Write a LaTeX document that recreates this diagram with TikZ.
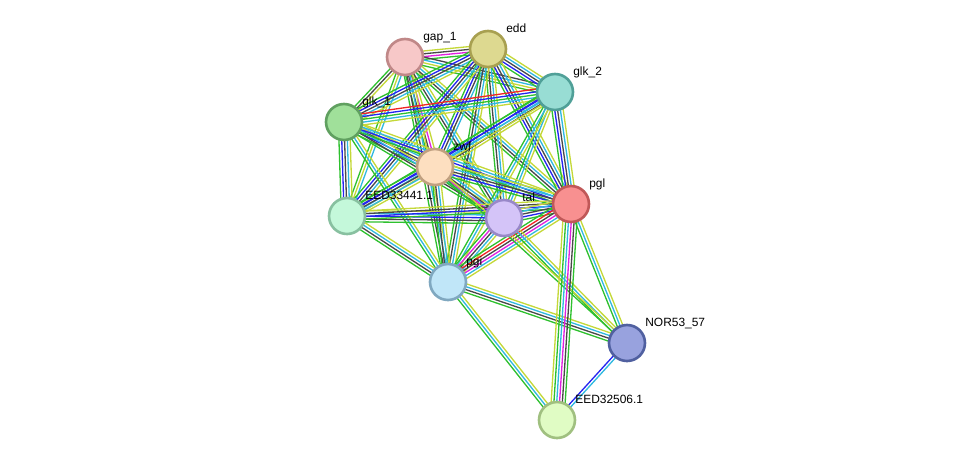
\documentclass[tikz,border=0pt]{standalone}
\usepackage{fontspec}
\setmainfont{Liberation Sans}
\usetikzlibrary{calc}
\pgfdeclarelayer{background}
\pgfsetlayers{background,main}
\definecolor{sgreen}{HTML}{2EC02E}
\definecolor{syellow}{HTML}{C4D838}
\definecolor{scyan}{HTML}{30B8E0}
\definecolor{sblack}{HTML}{484848}
\definecolor{sblue}{HTML}{2424F0}
\definecolor{smag}{HTML}{E020E0}
\definecolor{sred}{HTML}{F02424}
\tikzset{
  prot/.style={circle,minimum size=0.72cm,inner sep=0pt,line width=1.5pt},
  plbl/.style={anchor=base west,inner sep=0pt,font=\fontsize{6.8}{8}\selectfont},
  ln/.style={line width=0.75pt}
}
\newcommand\sedge[3]{%
  \gdef\nn{0}\foreach \c in {#3}{\xdef\nn{\the\numexpr\nn+1}}%
  \foreach \c [count=\i] in {#3}{%
    \pgfmathsetmacro\off{(\i-(\nn+1)/2)*1.6}%
    \draw[ln,\c] ($(#1)!\off pt!90:(#2)$) -- ($(#2)!\off pt!-90:(#1)$);}}

\begin{document}
\begin{tikzpicture}[x=0.02cm,y=-0.02cm]
\useasboundingbox (0,0) rectangle (975,467);
\foreach \n/\x/\y/\f/\d/\t in {
  gap/405/57/F7C8C8/C08888/gap\_1,
  edd/488/49/DDD990/A8A050/edd,
  glkb/555/92/98DDD4/50A098/glk\_2,
  glka/344/122/A0E09A/60A060/glk\_1,
  zwf/435/167/FDDFC0/C0A080/zwf,
  eeda/347/216/C4F8DA/88C0A0/EED33441.1,
  tal/504/218/D4C4F8/9888C8/tal,
  pgl/571/204/F89090/C05858/pgl,
  pgi/448/282/C0E6F8/80A8C0/pgi,
  nor/627/343/98A2DE/5060A0/NOR53\_57,
  eedb/557/420/E0FCC4/A0C080/EED32506.1}{
  \definecolor{fc}{HTML}{\f}\definecolor{dc}{HTML}{\d}
  \node[prot,fill=fc,draw=dc] (\n) at (\x,\y) {};
  \node[plbl] (\n-l) at ($(\n)+(18,-17)$) {\t};
}
\begin{pgfonlayer}{background}
\sedge{gap}{edd}{sgreen,smag,sblack,syellow}
\sedge{gap}{glkb}{sgreen,syellow,scyan,sblack}
\sedge{gap}{glka}{sgreen,sblack,syellow}
\sedge{gap}{zwf}{sgreen,sblack,smag,syellow}
\sedge{gap}{eeda}{sgreen,syellow,scyan}
\sedge{gap}{tal}{sgreen,sblack,scyan,syellow}
\sedge{gap}{pgl}{sgreen,sblack,scyan,syellow}
\sedge{gap}{pgi}{sgreen,sblack,scyan,syellow}
\sedge{edd}{glkb}{sgreen,sblue,sblack,scyan,syellow}
\sedge{edd}{glka}{sgreen,sblue,sblack,scyan,syellow}
\sedge{edd}{zwf}{sgreen,sblue,sblack,scyan}
\sedge{edd}{eeda}{sgreen,sblue,sblack,scyan,syellow}
\sedge{edd}{tal}{sgreen,sblack,scyan,syellow}
\sedge{edd}{pgl}{sgreen,sblue,sblack,scyan,syellow}
\sedge{edd}{pgi}{sgreen,sblack,scyan,syellow}
\sedge{glkb}{glka}{sred,sblue,sgreen,scyan,syellow}
\sedge{glkb}{zwf}{sgreen,sblue,scyan,sblack,syellow}
\sedge{glkb}{eeda}{sgreen,sblue,scyan,syellow}
\sedge{glkb}{tal}{sgreen,scyan,syellow}
\sedge{glkb}{pgl}{sgreen,sblue,sblack,scyan,syellow}
\sedge{glkb}{pgi}{sgreen,scyan,syellow}
\sedge{glka}{zwf}{sgreen,sblue,sblack,scyan,syellow}
\sedge{glka}{eeda}{sgreen,sblue,sblack,scyan,syellow}
\sedge{glka}{tal}{sgreen,sblack,scyan,syellow}
\sedge{glka}{pgl}{sgreen,sblue,scyan,syellow}
\sedge{glka}{pgi}{sgreen,scyan,syellow}
\sedge{zwf}{eeda}{sgreen,sblue,sblack,scyan,syellow}
\sedge{zwf}{tal}{sgreen,smag,sblack,scyan,syellow}
\sedge{zwf}{pgl}{sgreen,sblue,sblack,scyan,syellow}
\sedge{zwf}{pgi}{sgreen,sblack,scyan,syellow}
\sedge{eeda}{tal}{sgreen,sblack,sblue,scyan,syellow}
\sedge{eeda}{pgl}{sgreen,sblue,sblack,syellow}
\sedge{eeda}{pgi}{sgreen,sblack,scyan,syellow}
\sedge{tal}{pgl}{sgreen,sblue,sblack,scyan,syellow}
\sedge{tal}{pgi}{sgreen,smag,sblack,scyan,syellow}
\sedge{pgl}{pgi}{sgreen,sred,sblack,smag,scyan,syellow}
\sedge{pgi}{nor}{sgreen,sblack,scyan,syellow}
\sedge{tal}{nor}{sgreen,scyan,syellow}
\sedge{zwf}{nor}{sgreen,syellow}
\sedge{pgl}{nor}{sgreen,scyan,syellow}
\sedge{pgi}{eedb}{sgreen,scyan,syellow}
\sedge{pgl}{eedb}{syellow,sgreen,scyan,smag,sblack,sgreen}
\sedge{nor}{eedb}{sblue,scyan}
\end{pgfonlayer}
\end{tikzpicture}
\end{document}
